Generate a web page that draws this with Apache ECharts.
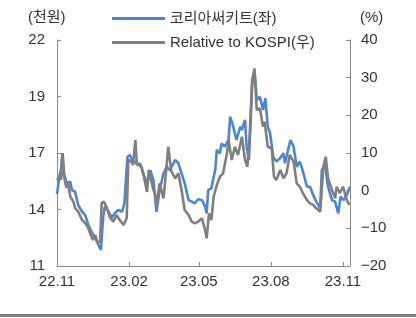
<!DOCTYPE html>
<html><head><meta charset="utf-8">
<script src="https://cdn.jsdelivr.net/npm/echarts@6/dist/echarts.min.js"></script>
<style>html,body{margin:0;padding:0;background:#fff}#c{width:416px;height:318px}</style>
</head><body><div id="c"></div>
<script>
// x positions are days since 2022-11-01
var tickDays = [0, 92, 181, 273, 365];
var tickLabels = ['22.11', '23.02', '23.05', '23.08', '23.11'];
var seriesNames = ['코리아써키트(좌)', 'Relative to KOSPI(우)'];

var priceDays = [0,3,5,7,9,12,17,19,23,25,27,32,36,38,40,44,49,53,56,59,61,66,70,74,78,83,86,88,90,93,96,104,108,110,115,119,123,127,131,136,140,144,151,155,159,163,168,172,176,180,185,189,191,193,197,200,202,204,208,210,214,219,221,225,229,234,236,240,242,245,249,252,255,259,263,266,269,272,276,280,285,289,291,295,298,302,306,310,314,319,323,327,331,336,338,342,346,351,355,359,362,366,370,374];
var priceValues = [14.50,15.35,15.67,16.49,15.53,15.04,15.10,14.70,14.62,14.31,13.97,13.64,13.48,13.24,13.00,12.67,12.36,12.02,11.78,13.40,13.89,13.64,13.34,13.58,13.73,13.64,14.05,13.97,16.32,16.40,16.16,15.92,15.83,15.51,15.03,15.67,15.19,13.64,14.70,15.51,15.83,15.67,16.16,16.00,15.51,15.03,14.21,14.13,14.05,14.25,14.21,13.89,13.56,14.70,14.78,15.35,15.67,16.65,16.48,16.97,16.81,17.13,18.27,17.78,17.13,17.78,17.62,18.11,16.81,16.16,19.73,20.62,19.08,19.24,18.59,19.16,17.78,17.46,16.32,16.08,16.26,16.49,16.00,16.65,17.13,16.81,15.83,16.08,15.59,14.86,14.86,14.46,14.13,13.81,15.67,15.92,14.86,14.21,14.13,13.56,14.37,14.21,14.46,14.86];

var relDays = [0,3,5,7,9,12,14,17,21,23,27,32,36,40,43,46,49,51,55,57,60,63,68,72,76,80,85,89,91,95,97,100,102,106,110,115,117,119,123,125,127,131,136,140,142,146,151,155,159,163,168,172,176,180,185,189,191,194,197,200,204,208,212,217,219,223,227,231,236,240,243,246,249,252,255,259,263,265,269,274,277,280,285,289,293,297,302,306,310,314,319,323,327,331,336,340,343,346,351,355,357,361,365,370,373];
var relValues = [2.83,3.71,2.83,10.0,3.71,0.71,2.38,-1.60,-2.93,-4.60,-5.58,-7.79,-8.58,-9.91,-11.77,-13.10,-11.77,-13.55,-13.55,-3.27,-2.93,-4.26,-7.26,-8.24,-6.46,-7.79,-9.12,-7.26,8.14,7.69,6.81,13.45,6.81,7.26,4.61,-0.35,5.49,5.94,0.18,-0.62,-4.26,1.96,-2.03,6.81,11.67,5.04,3.28,4.61,0.18,-5.13,-6.46,-8.24,-8.66,-8.24,-7.34,-10.44,-12.65,-6.01,-7.79,-1.60,1.50,3.71,4.61,9.92,13.45,8.14,11.67,9.47,14.33,8.14,6.36,14.33,29.38,32.04,21.42,21.87,16.98,18.31,11.67,11.25,3.71,2.83,5.49,3.28,4.61,9.47,7.69,1.96,1.05,-0.70,-2.48,-3.35,-3.80,-4.68,-5.58,6.36,9.02,3.28,0.18,-2.03,1.05,-0.70,1.05,-2.48,-3.80];

var leftTickValues = [11, 13.75, 16.5, 19.25, 22];
var leftTickLabels = ['11', '14', '17', '19', '22'];

function pairs(xs, ys) { var o = []; for (var i = 0; i < Math.min(xs.length, ys.length); i++) o.push([xs[i], ys[i]]); return o; }

var FONT = '"Liberation Sans", Arial, "Noto Sans CJK KR", sans-serif';
var AX = '#8c8c8c';
var TXT = '#333333';
var FS = 15;
var chart = echarts.init(document.getElementById('c'), null, {renderer: 'canvas'});
chart.setOption({
  animation: false,
  textStyle: {fontFamily: FONT},
  grid: {left: 57, right: 66, top: 40, bottom: 52},
  legend: {
    orient: 'vertical', left: 107, top: 6, itemWidth: 53, itemHeight: 3, itemGap: 9,
    icon: 'rect',
    textStyle: {fontFamily: FONT, fontSize: FS, color: TXT},
    data: seriesNames
  },
  graphic: [
    {type: 'text', left: 28, top: 10, style: {text: '(천원)', font: FS + 'px ' + FONT, fill: TXT}},
    {type: 'text', left: 360, top: 10, style: {text: '(%)', font: FS + 'px ' + FONT, fill: TXT}},
    {type: 'rect', left: 0, top: 314, shape: {width: 416, height: 3}, style: {fill: '#7f7f7f'}}
  ],
  xAxis: {
    type: 'value', min: 0, max: 374,
    axisLine: {show: true, onZero: false, lineStyle: {color: AX, width: 1}},
    axisTick: {show: true, inside: true, length: 4, lineStyle: {color: AX}, customValues: tickDays},
    axisLabel: {customValues: tickDays, color: TXT, fontSize: FS, margin: 8,
      formatter: function (v) { var i = tickDays.indexOf(v); return i >= 0 ? tickLabels[i] : ''; }},
    splitLine: {show: false}
  },
  yAxis: [
    {
      type: 'value', min: 11, max: 22, position: 'left',
      axisLine: {show: true, onZero: false, lineStyle: {color: AX, width: 1}},
      axisTick: {show: true, inside: true, length: 4, lineStyle: {color: AX}, customValues: leftTickValues},
      axisLabel: {customValues: leftTickValues, color: TXT, fontSize: FS, margin: 12,
        formatter: function (v) { var i = leftTickValues.indexOf(v); return i >= 0 ? leftTickLabels[i] : ''; }},
      splitLine: {show: false}
    },
    {
      type: 'value', min: -20, max: 40, interval: 10, position: 'right',
      axisLine: {show: true, onZero: false, lineStyle: {color: AX, width: 1}},
      axisTick: {show: true, inside: true, length: 4, lineStyle: {color: AX}},
      axisLabel: {color: TXT, fontSize: FS, margin: 11,
        formatter: function (v) { return v < 0 ? '\u2212' + Math.abs(v) : String(v); }},
      splitLine: {show: false}
    }
  ],
  series: [
    {name: seriesNames[0], type: 'line', yAxisIndex: 0, data: pairs(priceDays, priceValues),
      showSymbol: false, symbol: 'none', lineStyle: {color: '#4a86d6', width: 2.6}, itemStyle: {color: '#4a86d6'}},
    {name: seriesNames[1], type: 'line', yAxisIndex: 1, data: pairs(relDays, relValues),
      showSymbol: false, symbol: 'none', lineStyle: {color: '#7f7f7f', width: 2.6}, itemStyle: {color: '#7f7f7f'}}
  ]
});
</script></body></html>
